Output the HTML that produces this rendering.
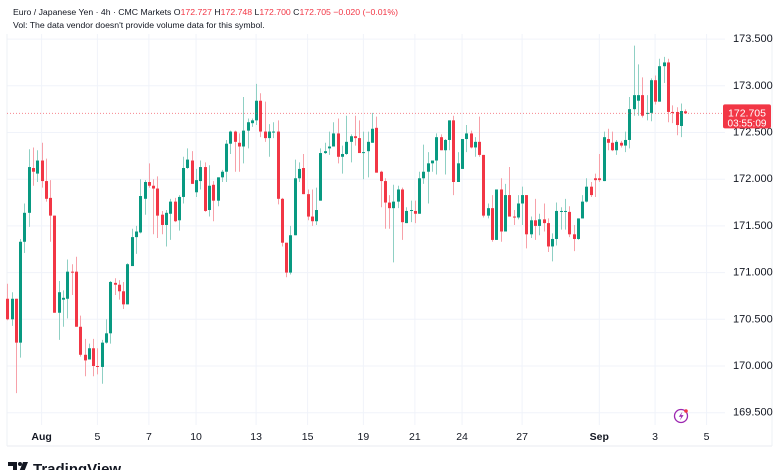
<!DOCTYPE html>
<html><head><meta charset="utf-8"><style>
body{margin:0;background:#fff;width:780px;height:470px;overflow:hidden;font-family:"Liberation Sans",sans-serif;}
svg{display:block}
</style></head><body>
<svg id="chart" width="780" height="470" xmlns="http://www.w3.org/2000/svg">
<rect x="0" y="0" width="780" height="470" fill="#ffffff"/>
<g id="grid"></g>
<line x1="7" y1="446" x2="772" y2="446" stroke="#e8ebf0"/>
<line x1="7" y1="34" x2="7" y2="446" stroke="#eef0f4"/>
<line x1="772" y1="34" x2="772" y2="446" stroke="#eef0f4"/>
<g id="candles"></g>
<g id="yaxis"></g>
<g id="xaxis"></g>
<g font-size="8.7" fill="#131722">
<text x="13" y="15">Euro / Japanese Yen · 4h · CMC Markets  <tspan fill="#131722">O</tspan><tspan fill="#f23645">172.727</tspan>  <tspan fill="#131722">H</tspan><tspan fill="#f23645">172.748</tspan>  <tspan fill="#131722">L</tspan><tspan fill="#f23645">172.700</tspan>  <tspan fill="#131722">C</tspan><tspan fill="#f23645">172.705</tspan>  <tspan fill="#f23645">−0.020 (−0.01%)</tspan></text>
<text x="13" y="28">Vol: The data vendor doesn't provide volume data for this symbol.</text>
</g>
<g>
<circle cx="681" cy="416" r="6.5" fill="none" stroke="#9c27b0" stroke-width="1.3"/>
<path d="M682.5 411.5 L678.8 416.8 L681.3 416.8 L679.8 420.5 L683.6 415.1 L681.1 415.1 Z" fill="#9c27b0"/>
<circle cx="686" cy="411" r="1.8" fill="#f23645"/>
</g>
<g>
<path d="M8 462 H17 V472 H13 V466 H8 Z" fill="#131722"/>
<circle cx="20" cy="464" r="2" fill="#131722"/>
<path d="M23 462 H28 L24 472 H19 Z" fill="#131722"/>
<text x="33" y="474" font-size="15" font-weight="bold" fill="#131722">TradingView</text>
</g>
</svg>
<script>
const opens=[170.72,170.50,170.72,170.25,171.33,171.64,172.12,172.06,172.20,171.98,171.80,171.61,170.57,170.71,170.72,171.01,171.01,170.42,170.12,170.07,170.19,170.00,169.99,170.25,170.35,170.89,170.87,170.80,170.66,171.07,171.38,171.43,171.79,171.97,171.93,171.90,171.62,171.51,171.63,171.76,171.56,171.81,172.12,172.20,171.86,171.98,172.13,171.67,171.94,171.77,172.02,172.08,172.38,172.51,172.39,172.35,172.52,172.60,172.63,172.84,
172.51,172.44,172.50,172.51,171.79,171.32,171.00,171.40,172.01,172.12,171.84,171.60,171.55,171.77,172.28,172.33,172.35,172.49,172.24,172.27,172.40,172.46,172.44,172.28,172.30,172.39,172.55,172.08,171.98,171.75,171.69,171.76,171.89,171.53,171.66,171.66,171.63,172.01,172.08,172.17,172.20,172.45,172.31,172.42,172.63,171.97,172.11,172.43,172.49,172.34,172.40,172.26,171.61,171.69,171.35,171.89,171.44,171.83,171.60,171.59,
171.74,171.83,171.41,171.56,171.50,171.57,171.53,171.28,171.36,171.65,171.65,171.65,171.41,171.36,171.58,171.76,171.92,172.01,172.01,171.98,172.43,172.39,172.31,172.39,172.36,172.42,172.75,172.84,172.90,172.70,172.71,173.06,172.83,173.21,173.25,172.72,172.72,172.57,172.727];
const highs=[170.88,170.79,170.72,171.36,171.74,172.32,172.34,172.31,172.39,172.22,171.99,171.61,170.91,170.81,171.14,171.09,171.17,170.54,170.29,170.24,170.29,170.19,170.28,170.50,170.91,170.94,170.92,170.90,171.10,171.47,171.50,172.00,171.99,172.17,172.00,172.03,171.66,171.67,171.79,171.80,171.83,172.24,172.33,172.30,172.11,172.20,172.18,172.15,171.98,172.02,172.10,172.42,172.52,172.52,172.49,172.88,172.65,172.65,173.02,172.92,
172.83,172.59,172.61,172.63,171.80,171.32,171.50,172.21,172.18,172.27,171.89,171.89,171.91,172.33,172.39,172.51,172.61,172.65,172.36,172.68,172.48,172.68,172.63,172.51,172.51,172.71,172.67,172.09,172.01,171.83,171.94,171.93,171.91,171.70,171.77,171.77,172.08,172.37,172.29,172.20,172.49,172.48,172.43,172.63,172.68,172.29,172.43,172.58,172.52,172.45,172.67,172.26,171.74,171.83,171.89,172.01,171.95,172.13,171.67,171.83,
171.92,171.83,171.60,171.79,171.63,171.74,171.58,171.42,171.75,171.70,171.79,171.71,171.51,171.58,171.83,172.01,171.97,172.06,172.27,172.51,172.54,172.51,172.42,172.41,172.51,172.88,173.43,173.23,173.09,172.90,173.08,173.11,173.29,173.31,173.29,172.79,172.77,172.81,172.748];
const lows=[170.49,170.43,169.71,170.09,171.21,171.49,171.93,171.97,171.91,171.76,171.33,170.57,170.28,170.42,170.51,170.76,170.42,170.10,169.89,170.07,169.89,169.91,169.81,170.24,170.24,170.76,170.71,170.61,170.66,171.20,171.20,171.42,171.62,171.91,171.41,171.37,171.41,171.28,171.35,171.54,171.45,171.74,172.11,171.95,171.81,171.89,171.65,171.60,171.55,171.71,171.97,171.97,172.27,172.08,172.08,172.17,172.33,172.56,172.58,172.45,
172.40,172.24,172.44,171.73,171.28,170.95,170.98,171.40,171.97,171.84,171.56,171.50,171.51,171.77,172.27,172.26,172.35,172.17,172.06,172.26,172.18,172.36,172.28,172.00,172.02,172.39,172.07,171.70,171.47,171.47,171.11,171.69,171.35,171.53,171.54,171.53,171.63,171.95,171.74,172.08,172.05,172.31,172.05,172.31,171.83,171.97,172.11,172.29,172.33,172.24,172.24,171.59,171.58,171.33,171.35,171.33,171.44,171.60,171.51,171.57,
171.51,171.26,171.37,171.35,171.40,171.44,171.22,171.12,171.29,171.46,171.46,171.38,171.23,171.35,171.58,171.75,171.81,171.81,171.97,171.98,172.31,172.30,172.26,172.34,172.29,172.33,172.68,172.68,172.66,172.63,172.62,172.80,172.83,173.03,172.61,172.60,172.47,172.45,172.700];
const closes=[170.50,170.72,170.25,171.33,171.64,172.13,172.08,172.20,171.98,171.79,171.61,170.57,170.79,170.73,171.01,171.00,170.42,170.12,170.06,170.19,170.00,169.99,170.25,170.35,170.90,170.87,170.80,170.66,171.09,171.38,171.44,171.82,171.97,171.93,171.90,171.61,171.51,171.64,171.76,171.55,171.81,172.12,172.21,171.95,171.99,172.13,171.66,171.93,171.77,172.02,172.08,172.38,172.51,172.40,172.35,172.52,172.61,172.63,172.84,172.51,
172.44,172.51,172.51,171.79,171.32,171.00,171.40,172.01,172.11,171.84,171.60,171.55,171.67,172.28,172.30,172.35,172.49,172.24,172.27,172.40,172.46,172.44,172.28,172.29,172.40,172.54,172.07,171.98,171.75,171.69,171.76,171.89,171.54,171.66,171.67,171.63,172.01,172.08,172.17,172.20,172.45,172.31,172.42,172.63,171.97,172.17,172.43,172.49,172.34,172.40,172.26,171.61,171.69,171.35,171.89,171.44,171.83,171.60,171.59,171.74,
171.83,171.41,171.56,171.50,171.57,171.53,171.28,171.36,171.66,171.66,171.66,171.41,171.36,171.58,171.76,171.92,171.83,171.99,171.99,172.45,172.39,172.31,172.40,172.36,172.42,172.75,172.90,172.90,172.68,172.71,173.06,172.83,173.21,173.25,172.72,172.71,172.58,172.73,172.705];
const yTicks=[173.5,173.0,172.5,172.0,171.5,171.0,170.5,170.0,169.5];
const xTickLabels=["Aug","5","7","10","13","15","19","21","24","27","Sep","3","5"];
const xTickIndex=[8,21,33,44,58,70,83,95,106,120,138,151,163];
const lastPrice=172.705;
const countdown="03:55:09";

const NS="http://www.w3.org/2000/svg";
const y=p=>412.7-(p-169.5)*93.4;
const x=i=>7.3+i*4.29;
function mk(tag,attrs,parent){const e=document.createElementNS(NS,tag);for(const k in attrs)e.setAttribute(k,attrs[k]);parent.appendChild(e);return e;}
const grid=document.getElementById('grid'),cg=document.getElementById('candles'),ya=document.getElementById('yaxis'),xa=document.getElementById('xaxis');
yTicks.forEach(t=>{
  const l=mk('line',{x1:7,x2:725,y1:y(t),y2:y(t),stroke:'#f0f3fa'},grid);
  
  
  const tx=mk('text',{x:733,y:y(t)+3,'font-size':11,fill:'#131722'},ya);
  tx.textContent=t.toFixed(3);
  
  
});
xTickLabels.forEach((lab,k)=>{
  const xx=x(xTickIndex[k]);
  const l=mk('line',{x1:xx,x2:xx,y1:34,y2:425,stroke:'#f0f3fa'},grid);
  
  
  const bold=(lab==="Aug"||lab==="Sep");
  const tx=mk('text',{x:xx,y:440,'font-size':10.5,'text-anchor':'middle',fill:'#131722','font-weight':bold?'bold':'normal'},xa);
  tx.textContent=lab;
  
  
});
closes.forEach((c,i)=>{
  const o=opens[i],h=highs[i],lo=lows[i];
  const up=c>=o, col=up?'#089981':'#f23645', wc=up?'#8fd0c4':'#f7a1a9';
  const cx=Math.round(x(i))+0.5;
  const w=mk('line',{x1:cx,x2:cx,y1:y(h),y2:y(lo),stroke:wc,'stroke-width':1},cg);
  
  
  const top=y(Math.max(o,c)),bh=Math.max(1,y(Math.min(o,c))-top);
  const b=mk('rect',{x:cx-1.5,y:top,width:3,height:bh,fill:col},cg);
  
  
});
const py=y(lastPrice);
const pl=mk('line',{x1:7,x2:725,y1:py,y2:py,stroke:'#f23645','stroke-dasharray':'1 2','stroke-opacity':0.6},cg);


const box=mk('rect',{x:723,y:py-9,width:48,height:24,rx:2,fill:'#f23645'},ya);


const t1=mk('text',{x:747,y:py+3,'font-size':10.5,fill:'#fff','text-anchor':'middle'},ya);
t1.textContent=lastPrice.toFixed(3);


const t2=mk('text',{x:747,y:py+13,'font-size':10,fill:'#fff','text-anchor':'middle'},ya);
t2.textContent=countdown;


</script>
</body></html>
